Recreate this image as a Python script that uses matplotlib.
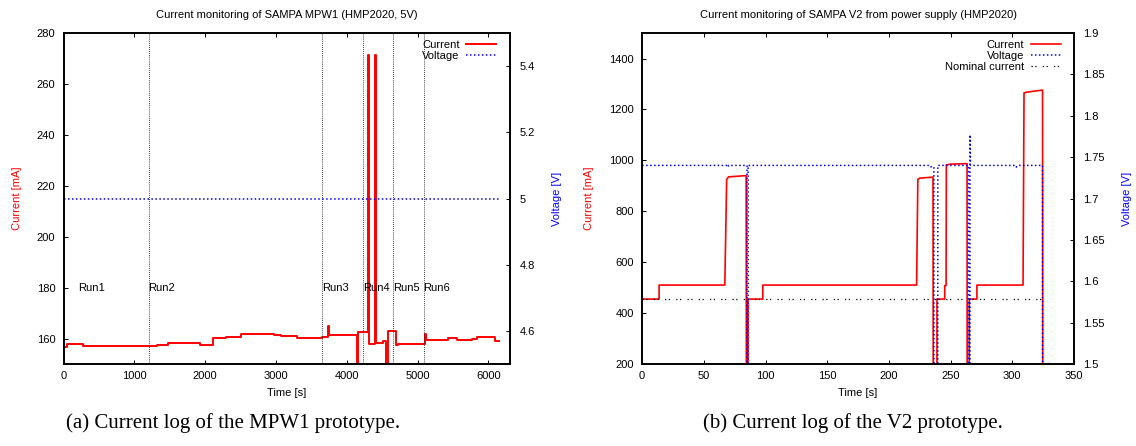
import matplotlib
matplotlib.use('Agg')
import matplotlib.pyplot as plt
from matplotlib.ticker import FuncFormatter

plt.rcParams['font.family'] = ['Liberation Sans', 'DejaVu Sans']
plt.rcParams['font.size'] = 8

# ---- (a) MPW1 prototype ----
t_mpw1 = [0, 50, 270, 1320, 1475, 1930, 2115, 2300, 2510, 2965, 3070, 3290, 3650,
          3730, 3745, 4000, 4140, 4165, 4300, 4315, 4400, 4415, 4510, 4560, 4580,
          4690, 4720, 5100, 5115, 5270, 5435, 5550, 5765, 5835, 6090, 6150]
i_mpw1 = [156.6, 157.8, 157.0, 157.4, 158.3, 157.4, 160.2, 160.5, 161.8, 161.2, 160.9,
          160.4, 160.6, 164.8, 161.2, 161.5, 140.0, 162.6, 271.5, 157.9, 271.5, 158.3,
          159.0, 140.0, 162.9, 157.3, 157.9, 161.8, 159.6, 159.6, 160.3, 159.6, 160.0,
          160.7, 159.1, 159.1]
tv_mpw1 = [0, 6150]
v_mpw1 = [5.0, 5.0]
run_labels = ['Run1', 'Run2', 'Run3', 'Run4', 'Run5', 'Run6']
run_starts = [200, 1200, 3655, 4225, 4650, 5085]
run_label_level = 180

# ---- (b) V2 prototype ----
t_v2 = [0, 13.7, 13.7, 67, 68.5, 70, 84.3, 84.5, 85.8, 85.8, 97.8, 97.8, 222.5, 223.5,
        225, 235.8, 236.0, 239.0, 239.0, 245.3, 245.3, 246.4, 246.6, 250, 263.4, 263.5,
        265.2, 265.2, 271.4, 271.4, 308.8, 309.6, 312, 324.6, 324.8]
i_v2 = [455, 455, 510, 510, 925, 935, 940, 0, 0, 455, 455, 510, 510, 925,
        930, 934, 0, 0, 455, 455, 508, 508, 982, 985, 987, 0,
        0, 455, 455, 510, 510, 1265, 1268, 1276, 0]
tv_v2 = [0, 69, 69.5, 70, 85.0, 85.2, 85.7, 85.9, 234, 234.3, 236.5, 237, 239.5, 239.7,
         264.6, 264.8, 265.6, 265.8, 266.2, 303, 303.3, 305, 324.6, 324.8]
v_v2 = [1.740, 1.740, 1.738, 1.740, 1.740, 0, 0, 1.740, 1.740, 1.738, 1.738, 0, 0, 1.740,
        1.740, 0, 0, 1.777, 1.740, 1.740, 1.738, 1.740, 1.740, 0]
t_nominal = [0, 325]
i_nominal = [455, 455]

red = '#ff0000'
blue = '#0000ff'
blue_dot = (0, (1, 1.6))
serif = ['Liberation Serif', 'DejaVu Serif']


def style_axes(ax, ax2):
    for a in (ax, ax2):
        for s in a.spines.values():
            s.set_linewidth(1.2)
    ax.tick_params(axis='both', direction='in', length=2.6, width=0.7, pad=6)
    ax.tick_params(axis='x', top=True, pad=5)
    ax.tick_params(axis='y', right=False)
    ax2.tick_params(axis='y', direction='in', length=2.6, width=0.7, pad=7)
    ax.set_xlabel('Time [s]')
    ax.xaxis.set_label_coords(0.5, -0.072)


def add_legend(ax2, handles):
    ax2.legend(handles=handles, loc='upper right', bbox_to_anchor=(0.985, 1.0),
               frameon=False, markerfirst=False, handlelength=2.7, handletextpad=0.6,
               labelspacing=0.12, borderaxespad=0.2, fontsize=8)


fig = plt.figure(figsize=(11.36, 4.46), dpi=100)

# panel (a)
ax = fig.add_axes([0.056, 0.1839, 0.3926, 0.742])
ax2 = ax.twinx()
l1, = ax.plot(t_mpw1, i_mpw1, color=red, lw=1.4, drawstyle='steps-post', label='Current')
l2, = ax2.plot(tv_mpw1, v_mpw1, color=blue, lw=1.1, ls=blue_dot, label='Voltage')
for x in run_starts[1:]:
    ax.axvline(x, color='black', lw=0.6, ls=(0, (1, 1.5)))
for x, lab in zip(run_starts, run_labels):
    ax.text(x, run_label_level, lab, ha='left', va='center', fontsize=8)
ax.set_xlim(0, 6300)
ax.set_ylim(150, 280)
ax.set_xticks(range(0, 6001, 1000))
ax.set_yticks(range(160, 281, 20))
ax2.set_ylim(4.5, 5.5)
ax2.set_yticks([4.6, 4.8, 5.0, 5.2, 5.4])
ax2.yaxis.set_major_formatter(FuncFormatter(lambda v, p: f'{v:g}'))
ax.set_ylabel('Current [mA]', color=red)
ax.yaxis.set_label_coords(-0.093, 0.5)
ax2.set_ylabel('Voltage [V]', color=blue)
ax2.yaxis.set_label_coords(1.095, 0.5)
style_axes(ax, ax2)
ax.text(0.5, 1.054, 'Current monitoring of SAMPA MPW1 (HMP2020, 5V)', transform=ax.transAxes,
        ha='center', va='center', fontsize=8)
add_legend(ax2, [l1, l2])

# panel (b)
bx = fig.add_axes([0.5653, 0.1839, 0.380, 0.742])
bx2 = bx.twinx()
m1, = bx.plot(t_v2, i_v2, color=red, lw=1.2, label='Current')
m3, = bx.plot(t_nominal, i_nominal, color='black', lw=0.9, ls=(0, (1, 2, 1, 5)),
              label='Nominal current')
m2, = bx2.plot(tv_v2, v_v2, color=blue, lw=1.1, ls=blue_dot, label='Voltage')
bx.set_xlim(0, 350)
bx.set_ylim(200, 1500)
bx.set_xticks(range(0, 351, 50))
bx.set_yticks(range(200, 1401, 200))
bx2.set_ylim(1.5, 1.9)
bx2.set_yticks([1.5, 1.55, 1.6, 1.65, 1.7, 1.75, 1.8, 1.85, 1.9])
bx2.yaxis.set_major_formatter(FuncFormatter(lambda v, p: f'{v:g}'))
bx.set_ylabel('Current [mA]', color=red)
bx.yaxis.set_label_coords(-0.1116, 0.5)
bx2.set_ylabel('Voltage [V]', color=blue)
bx2.yaxis.set_label_coords(1.1106, 0.5)
style_axes(bx, bx2)
bx.text(0.5, 1.054, 'Current monitoring of SAMPA V2 from power supply (HMP2020)',
        transform=bx.transAxes, ha='center', va='center', fontsize=8)
add_legend(bx2, [m1, m2, m3])

# captions
fig.text(233 / 1136, 0.052, '(a) Current log of the MPW1 prototype.', ha='center', va='center',
         family=serif, fontsize=15)
fig.text(853 / 1136, 0.052, '(b) Current log of the V2 prototype.', ha='center', va='center',
         family=serif, fontsize=15)

fig.savefig('out.png', dpi=100)
